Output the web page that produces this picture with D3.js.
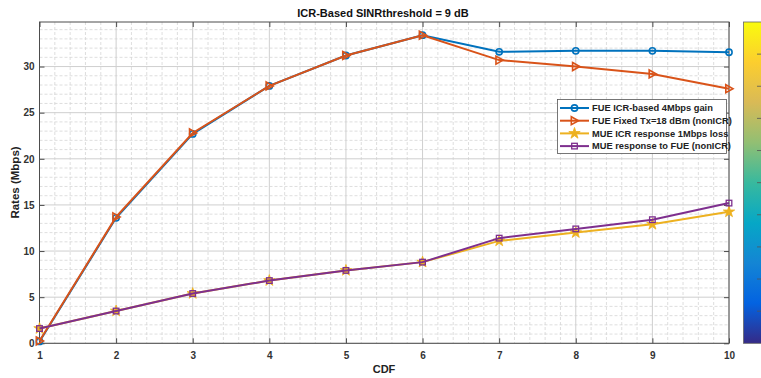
<!DOCTYPE html>
<html><head><meta charset="utf-8">
<script src="https://cdn.jsdelivr.net/npm/d3@7"></script>
<style>body{margin:0;background:#fff;} svg{display:block;font-family:"Liberation Sans",Arial,sans-serif;}</style>
</head><body>
<script>
const cdf = [1,2,3,4,5,6,7,8,9,10];
const fueICR   = [0.2,13.6,22.7,27.9,31.2,33.4,31.6,31.7,31.7,31.55];
const fueFixed = [0.25,13.7,22.8,27.9,31.2,33.4,30.7,30.0,29.2,27.6];
const mueICR   = [1.6,3.5,5.4,6.8,7.9,8.8,11.1,12.0,12.9,14.25];
const mueFixed = [1.6,3.5,5.4,6.8,7.9,8.8,11.4,12.4,13.4,15.2];
const seriesNames = ["FUE ICR-based 4Mbps gain","FUE Fixed Tx=18 dBm (nonICR)","MUE ICR response 1Mbps loss","MUE response to FUE (nonICR)"];
const xTicks = [1,2,3,4,5,6,7,8,9,10];
const yTicks = [0,5,10,15,20,25,30];
const titleText = "ICR-Based SINRthreshold = 9 dB";
const xLabel = "CDF", yLabel = "Rates (Mbps)";

const W=761,H=378;
const L=39.5,R=729,T=22,B=343.3;
const svg=d3.select("body").append("svg").attr("width",W).attr("height",H);
const x=d3.scaleLinear().domain([1,10]).range([L,R]);
const y=d3.scaleLinear().domain([0,34.83]).range([B,T]);

const g=svg.append("g");
// minor grid
const xMinor=d3.range(1,10.001,0.2).filter(v=>Math.abs(v-Math.round(v))>1e-6);
const yMinor=d3.range(0,34.8,1).filter(v=>v%5!==0);
g.selectAll(".xm").data(xMinor).join("line").attr("x1",d=>x(d)).attr("x2",d=>x(d)).attr("y1",T).attr("y2",B)
 .attr("stroke","#d5d5d5").attr("stroke-width",0.8).attr("stroke-dasharray","3,2");
g.selectAll(".ym").data(yMinor).join("line").attr("y1",d=>y(d)).attr("y2",d=>y(d)).attr("x1",L).attr("x2",R)
 .attr("stroke","#d5d5d5").attr("stroke-width",0.8).attr("stroke-dasharray","3,2");
// major grid
g.selectAll(".xg").data(xTicks).join("line").attr("x1",d=>x(d)).attr("x2",d=>x(d)).attr("y1",T).attr("y2",B)
 .attr("stroke","#cfcfcf").attr("stroke-width",1);
g.selectAll(".yg").data(yTicks).join("line").attr("y1",d=>y(d)).attr("y2",d=>y(d)).attr("x1",L).attr("x2",R)
 .attr("stroke","#cfcfcf").attr("stroke-width",1);

// axes
const axCol="#4d4d4d";
const xa=svg.append("g").attr("transform",`translate(0,${B})`)
 .call(d3.axisBottom(x).tickValues(xTicks).tickFormat(d3.format("d")).tickSizeInner(-5).tickSizeOuter(0).tickPadding(9));
const xt=svg.append("g").attr("transform",`translate(0,${T})`)
 .call(d3.axisTop(x).tickValues(xTicks).tickFormat("").tickSizeInner(-5).tickSizeOuter(0));
const ya=svg.append("g").attr("transform",`translate(${L},0)`)
 .call(d3.axisLeft(y).tickValues(yTicks).tickSizeInner(-5).tickSizeOuter(0).tickPadding(5));
const yr=svg.append("g").attr("transform",`translate(${R},0)`)
 .call(d3.axisRight(y).tickValues(yTicks).tickFormat("").tickSizeInner(-5).tickSizeOuter(0));
[xa,xt,ya,yr].forEach(a=>{a.select(".domain").remove();a.selectAll("line").attr("stroke",axCol);
 a.selectAll("text").attr("fill","#333").attr("font-size","10px").attr("font-weight","bold").attr("font-family","Liberation Sans, Arial, sans-serif");});
svg.append("rect").attr("x",L).attr("y",T).attr("width",R-L).attr("height",B-T).attr("fill","none").attr("stroke",axCol).attr("stroke-width",1);

// series
const cols=["#0072BD","#D95319","#EDB120","#7E2F8E"];
const data=[fueICR,fueFixed,mueICR,mueFixed];
const line=d3.line().x((d,i)=>x(cdf[i])).y(d=>y(d));
const star=d3.symbol().type(d3.symbolStar).size(40);
function marker(sel,k,px,py){
  if(k===0) sel.append("circle").attr("cx",px).attr("cy",py).attr("r",3.1).attr("fill","none").attr("stroke",cols[0]).attr("stroke-width",1.6);
  else if(k===1) sel.append("path").attr("d",`M${px-3.2},${py-4}L${px+4},${py}L${px-3.2},${py+4}Z`).attr("fill","none").attr("stroke",cols[1]).attr("stroke-width",1.6);
  else if(k===2) sel.append("path").attr("d",star()).attr("transform",`translate(${px},${py})`).attr("fill",cols[2]).attr("stroke",cols[2]).attr("stroke-width",0.8);
  else sel.append("rect").attr("x",px-2.8).attr("y",py-2.8).attr("width",5.6).attr("height",5.6).attr("fill","none").attr("stroke",cols[3]).attr("stroke-width",1.3);
}
data.forEach((vals,k)=>{
  const s=svg.append("g");
  s.append("path").datum(vals).attr("d",line).attr("fill","none").attr("stroke",cols[k]).attr("stroke-width",2);
  vals.forEach((v,i)=>marker(s,k,x(cdf[i]),y(v)));
});

// legend
const lg=svg.append("g");
lg.append("rect").attr("x",557.5).attr("y",99.5).attr("width",169).attr("height",54).attr("fill","#fff").attr("stroke","#555").attr("stroke-width",0.8);
seriesNames.forEach((n,k)=>{
  const yy=108+k*12.7;
  lg.append("line").attr("x1",560).attr("x2",589).attr("y1",yy).attr("y2",yy).attr("stroke",cols[k]).attr("stroke-width",2);
  marker(lg,k,574.5,yy);
  lg.append("text").attr("x",592).attr("y",yy+3.3).text(n).attr("font-size","9.3px").attr("font-weight","bold").attr("fill","#222");
});

// titles
svg.append("text").attr("x",383).attr("y",17).attr("text-anchor","middle").attr("font-size","11px").attr("font-weight","bold").attr("fill","#111").text(titleText);
svg.append("text").attr("x",384).attr("y",373).attr("text-anchor","middle").attr("font-size","11px").attr("font-weight","bold").attr("fill","#222").text(xLabel);
svg.append("text").attr("transform","translate(19,182.5) rotate(-90)").attr("text-anchor","middle").attr("font-size","11.5px").attr("font-weight","bold").attr("fill","#222").text(yLabel);

// colorbar (parula)
const parula=["#352a87","#0363e1","#1485d4","#06a7c6","#38b99e","#92bf73","#d9ba56","#fcce2e","#f9fb0e"];
const defs=svg.append("defs");
const gr=defs.append("linearGradient").attr("id","cb").attr("x1",0).attr("x2",0).attr("y1",1).attr("y2",0);
parula.forEach((c,i)=>gr.append("stop").attr("offset",i/(parula.length-1)).attr("stop-color",c));
const cbX=743.5,cbW=18;
svg.append("rect").attr("x",cbX).attr("y",T).attr("width",cbW).attr("height",B-T).attr("fill","url(#cb)").attr("stroke","#666").attr("stroke-width",0.8);
const cs=d3.scaleLinear().domain([0,1]).range([B,T]);
svg.append("g").selectAll("line").data(d3.range(0.1,1,0.1)).join("line")
 .attr("x1",cbX+cbW-4.5).attr("x2",cbX+cbW).attr("y1",d=>cs(d)).attr("y2",d=>cs(d)).attr("stroke","#555").attr("stroke-width",0.8);
</script>
</body></html>
